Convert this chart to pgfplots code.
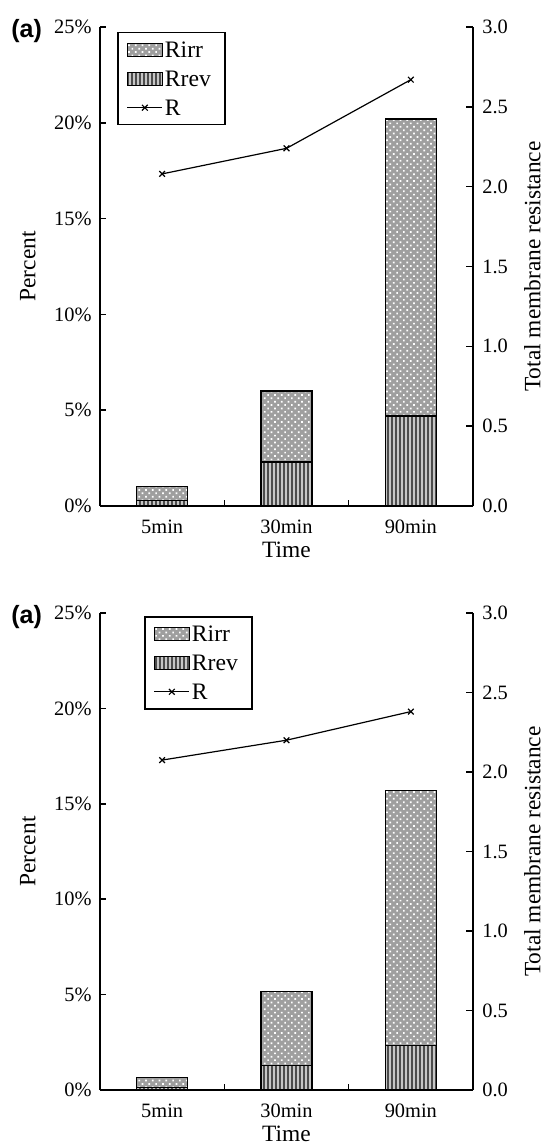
\documentclass[border=0pt]{standalone}
\usepackage{fontspec}
\setmainfont{Liberation Serif}
\setsansfont{Liberation Sans}
\usepackage{pgfplots}
\pgfplotsset{compat=1.18}
\usetikzlibrary{patterns.meta}

\pgfplotsset{
  Rirrstyle/.style={fill=gray!75, draw=black, line width=0.6pt,
    postaction={pattern={Dots[distance=2.4pt, radius=0.6pt, angle=45]}, pattern color=white}},
  Rrevstyle/.style={fill=gray!45, draw=black, line width=0.6pt,
    postaction={pattern={Lines[angle=90, distance=2pt, line width=1pt]}, pattern color=gray!60!black}},
  Rline/.style={black, line width=0.6pt, mark=x, mark size=2pt, mark options={solid, line width=0.6pt}},
  barlegend/.style={legend image code/.code={\draw[##1] (0pt,-3.25pt) rectangle (17.5pt,3.25pt);}},
  linelegend/.style={legend image code/.code={\draw[##1, sharp plot, mark repeat=2, mark phase=2] plot coordinates {(0pt,0pt) (8.75pt,0pt) (17.5pt,0pt)};}},
  leftax/.style={
    scale only axis, width=186.5pt,
    xmin=-0.5, xmax=2.5, ymin=0, ymax=25,
    axis x line*=bottom, axis y line*=left,
    axis line style={line width=0.75pt, black},
    xtick={0,1,2}, xticklabels={5min,30min,90min},
    minor xtick={0.5,1.5},
    major x tick style={draw=none},
    minor x tick style={line width=0.75pt, black},
    xtick align=inside,
    minor tick length=3pt,
    ytick={0,5,10,15,20,25}, yticklabels={0\%,5\%,10\%,15\%,20\%,25\%},
    ytick align=inside, major tick length=3pt,
    y tick style={line width=0.75pt, black},
    tick label style={font=\fontsize{10.2}{12}\selectfont},
    xticklabel style={inner sep=0pt, anchor=north, yshift=-7pt},
    yticklabel style={inner sep=0pt, anchor=east, xshift=-4pt},
    xlabel={Time}, ylabel={Percent},
    label style={font=\fontsize{11.7}{14}\selectfont},
    xlabel style={at={([yshift=-18pt]axis description cs:0.5,0)}, anchor=north, inner sep=0pt},
    ylabel style={at={([xshift=-32pt]axis description cs:0,0.5)}, anchor=south, inner sep=0pt},
    ybar stacked, bar width=25.5pt,
    legend cell align=left,
    legend style={anchor=north west, draw=black, line width=0.75pt,
      inner xsep=4.5pt, inner ysep=4.6pt, row sep=6.7pt, column sep=1pt,
      font=\fontsize{11.8}{14}\selectfont,
      nodes={inner sep=0pt, anchor=west, text width=25.5pt, text height=7.8pt, text depth=0pt}},
  },
  rightax/.style={
    scale only axis, width=186.5pt,
    xmin=-0.5, xmax=2.5, ymin=0, ymax=3,
    axis x line=none, axis y line*=right,
    axis line style={line width=0.75pt, black},
    ytick={0,0.5,1,1.5,2,2.5,3}, yticklabels={0.0,0.5,1.0,1.5,2.0,2.5,3.0},
    ytick align=inside, major tick length=3.5pt,
    y tick style={line width=0.75pt, black},
    tick label style={font=\fontsize{10.2}{12}\selectfont},
    yticklabel style={inner sep=0pt, anchor=west, xshift=4.5pt},
    ylabel={Total membrane resistance},
    label style={font=\fontsize{11.7}{14}\selectfont},
    ylabel style={at={([xshift=34pt]axis description cs:1,0.5)}, anchor=south, inner sep=0pt},
  },
}

\begin{document}
\begin{tikzpicture}
% ---------- top panel ----------
\begin{axis}[leftax, height=239.5pt, name=topL, at={(0pt,0pt)}, anchor=south west,
  legend style={at={(0,1)}, xshift=8.5pt, yshift=-2.5pt}]
  \addlegendimage{Rirrstyle, barlegend}\addlegendentry{Rirr}
  \addlegendimage{Rrevstyle, barlegend}\addlegendentry{Rrev}
  \addlegendimage{Rline, linelegend}\addlegendentry{R}
  \addplot[Rrevstyle, forget plot] coordinates {(0,0.3) (1,2.3) (2,4.7)};
  \addplot[Rirrstyle, forget plot] coordinates {(0,0.7) (1,3.7) (2,15.5)};
\end{axis}
\begin{axis}[rightax, height=239.5pt, at={(0pt,0pt)}, anchor=south west]
  \addplot[Rline] coordinates {(0,2.08) (1,2.24) (2,2.67)};
\end{axis}
\node[anchor=base west, inner sep=0pt, font=\sffamily\bfseries\fontsize{12.5}{15}\selectfont]
  at ([xshift=-44.5pt,yshift=-5.5pt]topL.north west) {(a)};
% ---------- bottom panel ----------
\begin{axis}[leftax, height=238.5pt, name=botL, at={(0pt,-292pt)}, anchor=south west,
  legend style={at={(0,1)}, xshift=22pt, yshift=-1.5pt}]
  \addlegendimage{Rirrstyle, barlegend}\addlegendentry{Rirr}
  \addlegendimage{Rrevstyle, barlegend}\addlegendentry{Rrev}
  \addlegendimage{Rline, linelegend}\addlegendentry{R}
  \addplot[Rrevstyle, forget plot] coordinates {(0,0.12) (1,1.3) (2,2.35)};
  \addplot[Rirrstyle, forget plot] coordinates {(0,0.52) (1,3.85) (2,13.35)};
\end{axis}
\begin{axis}[rightax, height=238.5pt, at={(0pt,-292pt)}, anchor=south west]
  \addplot[Rline] coordinates {(0,2.075) (1,2.2) (2,2.38)};
\end{axis}
\node[anchor=base west, inner sep=0pt, font=\sffamily\bfseries\fontsize{12.5}{15}\selectfont]
  at ([xshift=-44.5pt,yshift=-5pt]botL.north west) {(a)};
% page extent as in the reference
\path ([xshift=-50pt,yshift=13.5pt]topL.north west) rectangle ([xshift=222.5pt,yshift=-27.5pt]botL.south west);
\end{tikzpicture}
\end{document}
